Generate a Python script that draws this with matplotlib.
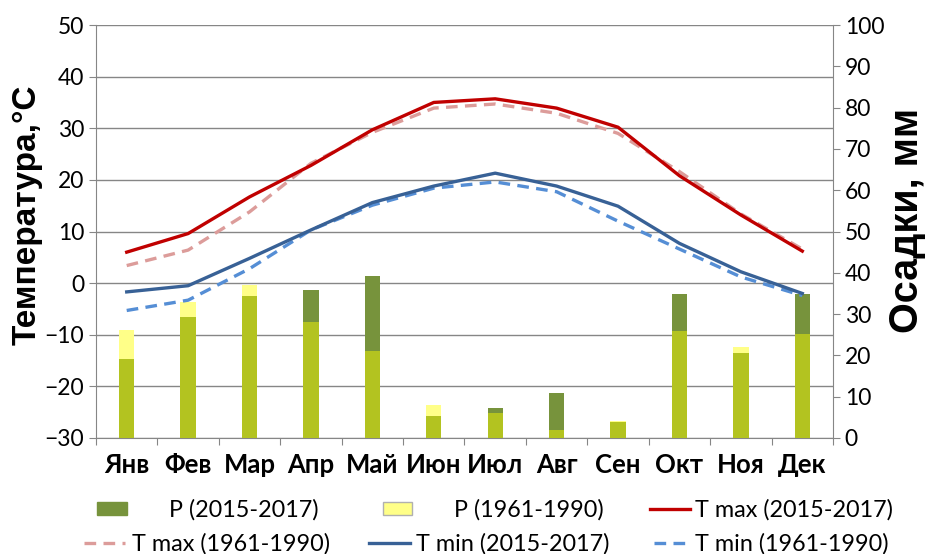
import matplotlib
matplotlib.use("Agg")
import matplotlib.pyplot as plt
import numpy as np
from matplotlib.patches import Patch
from matplotlib.lines import Line2D

plt.rcParams['font.family'] = ['Lato', 'DejaVu Sans']

months = ["Янв", "Фев", "Мар", "Апр", "Май", "Июн", "Июл", "Авг", "Сен", "Окт", "Ноя", "Дек"]
p_2015 = [19.1, 29.3, 34.5, 35.9, 39.2, 5.4, 7.3, 10.8, 3.8, 34.8, 20.7, 34.8]
p_1961 = [26.1, 32.9, 37.0, 28.2, 21.0, 8.0, 6.0, 2.0, 4.0, 26.0, 22.1, 25.2]
tmax_2015 = [6.0, 9.6, 16.7, 22.8, 29.7, 35.0, 35.7, 33.9, 30.2, 20.8, 13.2, 6.2]
tmax_1961 = [3.4, 6.4, 13.8, 23.2, 29.2, 33.9, 34.7, 32.9, 29.0, 21.6, 13.4, 6.6]
tmin_2015 = [-1.7, -0.5, 4.8, 10.3, 15.6, 18.8, 21.3, 18.8, 14.9, 7.7, 2.2, -2.0]
tmin_1961 = [-5.3, -3.3, 2.8, 10.3, 15.1, 18.4, 19.6, 17.7, 12.0, 6.6, 1.2, -2.4]

c_green = "#77933c"
c_yellow = "#ffff88"
c_overlap = "#b3c320"
c_tmax = "#c00000"
c_tmax_old = "#dc9c9a"
c_tmin = "#386196"
c_tmin_old = "#558ed5"
grey = "#868686"

fig = plt.figure(figsize=(9.25, 5.54), dpi=100)
ax = fig.add_axes([96/925, 1-438/554, (833-96)/925, (438-25)/554])
ax2 = ax.twinx()
ax3 = ax.twinx()

x = np.arange(len(months))
tick_fs = 16.5

# temperature axis (grid)
ax.set_ylim(-30, 50)
ax.set_yticks(np.arange(-30, 51, 10))
ax.set_xlim(-0.5, 11.5)
ax.grid(axis='y', color=grey, linewidth=1.0)
ax.set_axisbelow(True)
for s in ['top', 'right']:
    ax.spines[s].set_visible(False)
for s in ['left', 'bottom']:
    ax.spines[s].set_color(grey)
ax.tick_params(axis='y', colors=grey, labelcolor='black', labelsize=tick_fs, length=5, direction='out')
ax.set_xticks(np.arange(-0.5, 12, 1))
ax.set_xticklabels([])
ax.set_xticks(x, minor=True)
ax.set_xticklabels(months, minor=True, fontsize=18.5, fontweight='bold')
ax.tick_params(axis='x', which='major', colors=grey, length=5, direction='out')
ax.tick_params(axis='x', which='minor', length=0, pad=11)

# precipitation axis (bars)
w = 0.25
ax2.set_ylim(0, 100)
ax2.set_yticks(np.arange(0, 101, 10))
ax2.bar(x, p_1961, width=w, color=c_yellow, linewidth=0)
ax2.bar(x, p_2015, width=w, color=c_green, linewidth=0)
ax2.bar(x, np.minimum(p_1961, p_2015), width=w, color=c_overlap, linewidth=0)
for s in ['top', 'left', 'bottom']:
    ax2.spines[s].set_visible(False)
ax2.spines['right'].set_color(grey)
ax2.tick_params(axis='y', colors=grey, labelcolor='black', labelsize=tick_fs, length=5, direction='out')

# axis titles
lab_font = ['Liberation Sans', 'DejaVu Sans']
fig.text(27/925, 1 - 215/554, "Температура,°C", rotation=90, ha='center', va='center',
         fontsize=24, fontweight='bold', family=lab_font)
fig.text(907/925, 1 - 220/554, "Осадки, мм", rotation=90, ha='center', va='center',
         fontsize=28.5, fontweight='bold', family=lab_font)

# temperature lines
ax3.set_ylim(-30, 50)
ax3.axis('off')
lw = 2.4
dash = (3.5, 2.2)
ax3.plot(x, tmax_1961, color=c_tmax_old, lw=lw, dashes=dash)
ax3.plot(x, tmin_1961, color=c_tmin_old, lw=lw, dashes=dash)
ax3.plot(x, tmax_2015, color=c_tmax, lw=lw)
ax3.plot(x, tmin_2015, color=c_tmin, lw=lw)

# legend: one entry per slot, placed like the reference
leg_fs = 16.8
em = leg_fs * 100 / 72
entries = [
    (Patch(facecolor=c_green, edgecolor=c_green), "P (2015-2017)", 97, 510, 30, 171),
    (Patch(facecolor=c_yellow, edgecolor="#b0b0b0"), "P (1961-1990)", 383, 510, 29, 456),
    (Line2D([], [], color=c_tmax, lw=lw), "T max (2015-2017)", 650, 510, 40, 697),
    (Line2D([], [], color=c_tmax_old, lw=lw, dashes=dash), "T max (1961-1990)", 84, 544, 41, 134),
    (Line2D([], [], color=c_tmin, lw=lw), "T min (2015-2017)", 369, 544, 41, 418),
    (Line2D([], [], color=c_tmin_old, lw=lw, dashes=dash), "T min (1961-1990)", 654, 544, 36, 697),
]
for h, lab, hx, hy, hw, tx in entries:
    fig.legend([h], [lab], loc='center left', bbox_to_anchor=(hx/925, 1 - hy/554),
               frameon=False, fontsize=leg_fs, borderpad=0, borderaxespad=0,
               handlelength=hw/em, handleheight=0.45,
               handletextpad=max(tx - hx - hw - 2, 0)/em)

fig.savefig("out.png", dpi=100)
